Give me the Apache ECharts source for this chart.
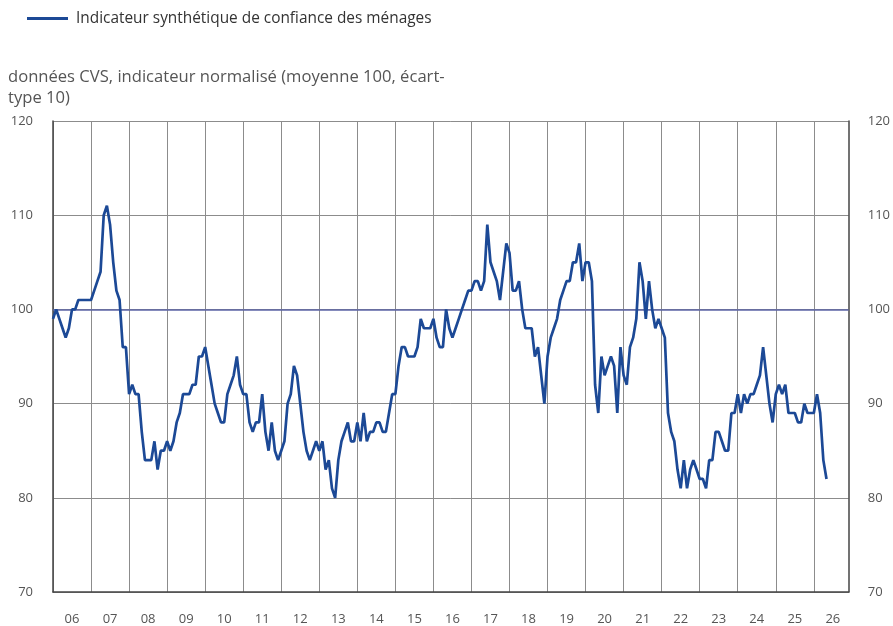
<!DOCTYPE html>
<html><head><meta charset="utf-8">
<script src="https://cdn.jsdelivr.net/npm/echarts@6/dist/echarts.min.js"></script>
<style>html,body{margin:0;padding:0;background:#fff}#c{width:893px;height:626px}</style>
</head><body><div id="c"></div>
<script>
// Axis years (two-digit labels), monthly categories from 2006-01 to 2026-12
const yearLabels = ['06','07','08','09','10','11','12','13','14','15','16','17','18','19','20','21','22','23','24','25','26'];
const firstYear = 2006;

// Monthly values, one array per year
const v2006 = [99,100,99,98,97,98,100,100,101,101,101,101];
const v2007 = [101,102,103,104,110,111,109,105,102,101,96,96];
const v2008 = [91,92,91,91,87,84,84,84,86,83,85,85];
const v2009 = [86,85,86,88,89,91,91,91,92,92,95,95];
const v2010 = [96,94,92,90,89,88,88,91,92,93,95,92];
const v2011 = [91,91,88,87,88,88,91,87,85,88,85,84];
const v2012 = [85,86,90,91,94,93,90,87,85,84,85,86];
const v2013 = [85,86,83,84,81,80,84,86,87,88,86,86];
const v2014 = [88,86,89,86,87,87,88,88,87,87,89,91];
const v2015 = [91,94,96,96,95,95,95,96,99,98,98,98];
const v2016 = [99,97,96,96,100,98,97,98,99,100,101,102];
const v2017 = [102,103,103,102,103,109,105,104,103,101,104,107];
const v2018 = [106,102,102,103,100,98,98,98,95,96,93,90];
const v2019 = [95,97,98,99,101,102,103,103,105,105,107,103];
const v2020 = [105,105,103,92,89,95,93,94,95,94,89,96];
const v2021 = [93,92,96,97,99,105,103,99,103,100,98,99];
const v2022 = [98,97,89,87,86,83,81,84,81,83,84,83];
const v2023 = [82,82,81,84,84,87,87,86,85,85,89,89];
const v2024 = [91,89,91,90,91,91,92,93,96,93,90,88];
const v2025 = [91,92,91,92,89,89,89,88,88,90,89,89];
const v2026 = [89,91,89,84,82];

const yTicks = {min: 70, max: 120, step: 10};
const refLevel = 100;
const seriesName = 'Indicateur synthétique de confiance des ménages';
const subtitle = 'données CVS, indicateur normalisé (moyenne 100, écart-\ntype 10)';

const values = [].concat(v2006,v2007,v2008,v2009,v2010,v2011,v2012,v2013,v2014,v2015,v2016,v2017,v2018,v2019,v2020,v2021,v2022,v2023,v2024,v2025,v2026);
const categories = [];
for (let y = 0; y < yearLabels.length; y++) {
  for (let m = 1; m <= 12; m++) categories.push((firstYear + y) + '-' + (m < 10 ? '0' + m : m));
}

const FONT = "'Open Sans', 'Noto Sans', sans-serif";
const chart = echarts.init(document.getElementById('c'), null, {renderer: 'canvas'});
chart.setOption({
  animation: false,
  backgroundColor: '#fff',
  title: {
    text: subtitle, left: 8, top: 67, padding: 0,
    textStyle: {fontFamily: FONT, fontSize: 16.6, fontWeight: 'normal', color: '#555', lineHeight: 21}
  },
  legend: {
    left: 27, top: 11, padding: 0,
    itemWidth: 41, itemHeight: 3, icon: 'rect',
    data: [{name: seriesName, icon: 'rect'}],
    textStyle: {fontFamily: FONT, fontSize: 15.4, color: '#333', padding: [0,0,0,3]}
  },
  grid: {left: 53, right: 43, top: 121, bottom: 33, containLabel: false},
  xAxis: {
    type: 'category', data: categories, boundaryGap: false,
    axisLine: {show: true, lineStyle: {color: '#444', width: 1.5}},
    axisTick: {show: false},
    splitLine: {show: true, interval: (i) => i % 12 === 0, lineStyle: {color: '#8c8c8c', width: 1}},
    axisLabel: {
      interval: (i) => (i < 240 ? i % 12 === 6 : i === 246),
      formatter: (v, i) => yearLabels[Math.floor(i / 12)],
      margin: 21, color: '#555', fontFamily: FONT, fontSize: 13
    }
  },
  yAxis: [
    {type: 'value', min: yTicks.min, max: yTicks.max, interval: yTicks.step, position: 'left',
     axisLine: {show: true, lineStyle: {color: '#444', width: 1.5}}, axisTick: {show: false},
     splitLine: {show: true, lineStyle: {color: '#8c8c8c', width: 1}},
     axisLabel: {margin: 20, color: '#555', fontFamily: FONT, fontSize: 13}},
    {type: 'value', min: yTicks.min, max: yTicks.max, interval: yTicks.step, position: 'right',
     axisLine: {show: true, lineStyle: {color: '#444', width: 1.5}}, axisTick: {show: false},
     splitLine: {show: false},
     axisLabel: {margin: 19, color: '#555', fontFamily: FONT, fontSize: 13}}
  ],
  series: [{
    name: seriesName, type: 'line', data: values, yAxisIndex: 0,
    showSymbol: false, symbol: 'none',
    lineStyle: {color: '#1c4996', width: 2.7},
    itemStyle: {color: '#1c4996'},
    markLine: {
      silent: true, symbol: ['none', 'none'], label: {show: false},
      lineStyle: {color: '#5d64a6', width: 1.5, type: 'solid'},
      data: [{yAxis: refLevel}]
    },
    z: 5
  }]
});
</script></body></html>
